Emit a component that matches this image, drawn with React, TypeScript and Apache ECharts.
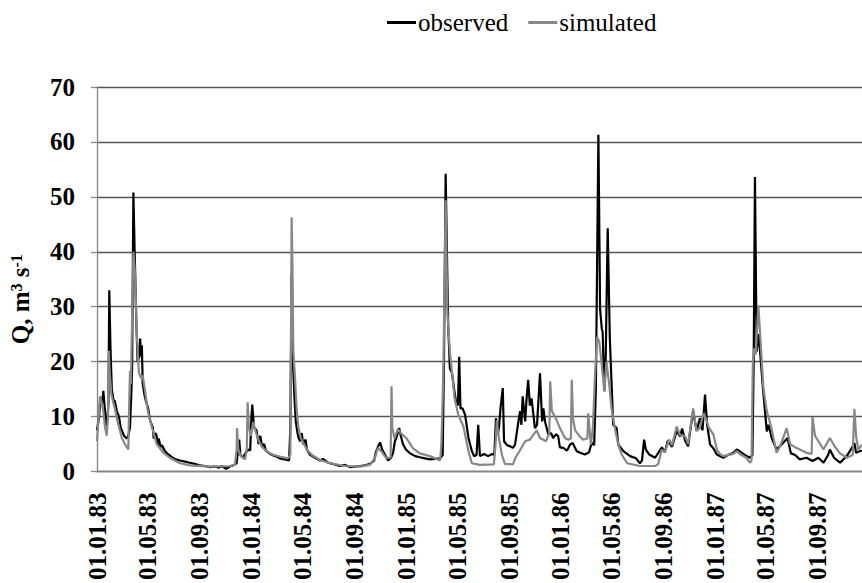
import React, { useEffect, useRef } from "react";
import * as echarts from "echarts";

const xTickDates: string[] = [
  "1983-01-01", "1983-05-01", "1983-09-01",
  "1984-01-01", "1984-05-01", "1984-09-01",
  "1985-01-01", "1985-05-01", "1985-09-01",
  "1986-01-01", "1986-05-01", "1986-09-01",
  "1987-01-01", "1987-05-01", "1987-09-01",
];

const xStart = "1983-01-01";
const xEnd = "1987-12-14";
const yMin = 0;
const yMax = 70;
const yStep = 10;

const observed: [string, number][] = [
  ["1983-01-01",7.5],["1983-01-06",10],["1983-01-09",13.5],["1983-01-13",12.5],["1983-01-16",14.7],["1983-01-20",11],["1983-01-22",8.3],["1983-01-26",10],["1983-01-28",12.5],["1983-01-30",33],["1983-02-02",22],["1983-02-05",15],["1983-02-09",13],["1983-02-12",12.8],["1983-02-17",11],["1983-02-22",10],["1983-02-26",8],["1983-03-06",6.5],["1983-03-12",6],["1983-03-16",6.5],["1983-03-20",8],["1983-03-23",14],["1983-03-25",19],["1983-03-28",50.8],["1983-03-31",40],["1983-04-04",27],["1983-04-07",20],["1983-04-11",21],["1983-04-13",24.2],["1983-04-15",21],["1983-04-17",23],["1983-04-19",16],["1983-04-23",14],["1983-04-26",13],["1983-05-02",11.5],["1983-05-06",9.5],["1983-05-08",9],["1983-05-13",8],["1983-05-15",6],["1983-05-19",7],["1983-05-22",6.5],["1983-05-25",4.8],["1983-05-27",6],["1983-05-31",4.5],["1983-06-03",4.8],["1983-06-10",3.8],["1983-06-17",3.2],["1983-06-27",2.6],["1983-07-06",2.2],["1983-07-16",2.0],["1983-07-28",1.8],["1983-08-08",1.6],["1983-08-20",1.4],["1983-09-01",1.1],["1983-09-13",1.0],["1983-09-25",0.8],["1983-10-07",0.9],["1983-10-16",0.7],["1983-10-23",1.0],["1983-11-02",0.5],["1983-11-11",0.9],["1983-11-21",1.2],["1983-11-27",1.5],["1983-12-03",5.8],["1983-12-06",3],["1983-12-12",2.5],["1983-12-19",3.5],["1983-12-24",4.0],["1983-12-29",3.8],
  ["1984-01-01",10],["1984-01-03",12.2],["1984-01-07",8],["1984-01-13",7.5],["1984-01-18",5],["1984-01-22",6.5],["1984-01-26",4.5],["1984-01-31",5],["1984-02-04",3.8],["1984-02-14",3.2],["1984-02-26",2.8],["1984-03-08",2.4],["1984-03-20",2.2],["1984-03-30",2.0],["1984-04-02",8],["1984-04-05",36],["1984-04-08",20],["1984-04-12",13],["1984-04-15",9],["1984-04-20",6.5],["1984-04-25",5.5],["1984-04-29",7.0],["1984-05-02",5],["1984-05-08",5.8],["1984-05-11",4],["1984-05-18",3.1],["1984-05-30",2.5],["1984-06-11",2.0],["1984-06-18",2.3],["1984-06-30",1.6],["1984-07-16",1.3],["1984-07-28",1.0],["1984-08-09",1.2],["1984-08-21",0.8],["1984-09-02",0.9],["1984-09-14",1.0],["1984-09-25",1.1],["1984-10-07",1.4],["1984-10-17",2.0],["1984-10-21",3.5],["1984-10-26",4.5],["1984-10-31",5.3],["1984-11-05",4],["1984-11-12",3],["1984-11-19",2.0],["1984-11-26",2.5],["1984-12-01",3.5],["1984-12-05",5.5],["1984-12-10",6.5],["1984-12-15",7.9],["1984-12-19",6.5],["1984-12-24",5],["1984-12-31",4],
  ["1985-01-10",3.3],["1985-01-22",2.8],["1985-02-02",2.6],["1985-02-14",2.4],["1985-02-26",2.2],["1985-03-10",2.3],["1985-03-22",2.4],["1985-03-28",3],["1985-03-31",20],["1985-04-04",54.2],["1985-04-07",40],["1985-04-10",26.6],["1985-04-14",18.8],["1985-04-19",17.9],["1985-04-24",15],["1985-04-28",13],["1985-05-03",12],["1985-05-06",20.9],["1985-05-09",11.5],["1985-05-14",11.5],["1985-05-20",10.3],["1985-05-28",6.1],["1985-06-05",3.7],["1985-06-10",2.8],["1985-06-16",3],["1985-06-20",8.5],["1985-06-24",2.8],["1985-07-04",3.2],["1985-07-13",2.8],["1985-07-23",3.2],["1985-07-28",3],["1985-08-01",9.7],["1985-08-05",6.7],["1985-08-08",8],["1985-08-12",11.8],["1985-08-17",15.2],["1985-08-20",5.5],["1985-08-27",4.8],["1985-09-03",4.6],["1985-09-10",4.3],["1985-09-15",4.9],["1985-09-23",9.1],["1985-09-27",11],["1985-09-30",8.5],["1985-10-03",13.7],["1985-10-09",9.1],["1985-10-12",13],["1985-10-16",16.7],["1985-10-20",12],["1985-10-24",13.3],["1985-11-01",7.9],["1985-11-06",8.5],["1985-11-13",17.9],["1985-11-18",9.1],["1985-11-21",11.5],["1985-11-25",9],["1985-12-03",6.7],["1985-12-09",7],["1985-12-14",6.1],["1985-12-21",6.8],["1985-12-26",6.4],["1985-12-30",4.4],
  ["1986-01-07",4.3],["1986-01-16",3.8],["1986-01-23",4.9],["1986-01-29",5.2],["1986-02-08",3.7],["1986-02-16",3.4],["1986-02-27",3.1],["1986-03-09",3.5],["1986-03-15",5.2],["1986-03-21",4.8],["1986-03-25",15],["1986-03-31",61.3],["1986-04-04",29.6],["1986-04-08",26],["1986-04-10",25.4],["1986-04-14",14.6],["1986-04-17",19.4],["1986-04-22",44.3],["1986-04-27",24.2],["1986-05-05",8.5],["1986-05-13",7.9],["1986-05-17",4.9],["1986-05-29",3.7],["1986-06-14",2.8],["1986-06-28",2.4],["1986-07-07",1.5],["1986-07-12",2],["1986-07-17",5.8],["1986-07-21",4],["1986-07-29",3.1],["1986-08-12",2.5],["1986-08-28",4.4],["1986-09-04",3.5],["1986-09-11",5.6],["1986-09-21",4.5],["1986-10-02",7.4],["1986-10-10",6.4],["1986-10-15",7.8],["1986-10-22",5.6],["1986-10-29",4.6],["1986-11-05",8.5],["1986-11-10",11],["1986-11-18",7.4],["1986-11-26",9.7],["1986-12-02",7.5],["1986-12-08",14],["1986-12-13",8.5],["1986-12-20",4.9],["1986-12-28",4.2],
  ["1987-01-05",3.1],["1987-01-12",2.8],["1987-01-20",2.5],["1987-01-31",3.0],["1987-02-13",3.4],["1987-02-21",4],["1987-02-28",3.7],["1987-03-12",3.0],["1987-03-24",2.5],["1987-03-30",3.0],["1987-04-02",20],["1987-04-05",53.6],["1987-04-09",21.8],["1987-04-13",25],["1987-04-17",22],["1987-04-24",15],["1987-05-03",7.3],["1987-05-07",8.5],["1987-05-15",6],["1987-05-26",4],["1987-06-07",4.9],["1987-06-21",6.1],["1987-06-29",3.3],["1987-07-09",3.0],["1987-07-20",2.2],["1987-08-05",2.5],["1987-08-19",1.9],["1987-09-02",2.5],["1987-09-14",1.6],["1987-09-25",3.0],["1987-09-29",4.0],["1987-10-09",2.5],["1987-10-23",1.6],["1987-11-08",2.8],["1987-11-20",4.3],["1987-11-26",5.2],["1987-11-30",3.4],["1987-12-05",3.6],["1987-12-14",3.8],
];

const simulated: [string, number][] = [
  ["1983-01-01",5.5],["1983-01-04",9],["1983-01-08",13.7],["1983-01-12",12.5],["1983-01-16",11],["1983-01-20",8],["1983-01-24",6.5],["1983-01-27",10],["1983-01-29",22],["1983-01-31",18],["1983-02-04",14],["1983-02-07",13],["1983-02-12",11.5],["1983-02-19",9],["1983-03-01",6],["1983-03-08",5],["1983-03-16",4],["1983-03-18",12],["1983-03-20",18.3],["1983-03-22",16],["1983-03-25",28],["1983-03-28",40],["1983-04-01",36],["1983-04-05",25],["1983-04-10",18],["1983-04-15",17],["1983-04-19",17.5],["1983-04-24",15],["1983-05-01",11],["1983-05-11",8],["1983-05-22",5],["1983-06-06",3.5],["1983-06-22",2.5],["1983-07-16",1.5],["1983-08-09",1.1],["1983-09-25",0.9],["1983-11-11",1.0],["1983-11-23",1.2],["1983-11-27",4],["1983-11-28",7.9],["1983-12-01",4],["1983-12-07",2.8],["1983-12-17",2.2],["1983-12-21",4],["1983-12-23",12.6],["1983-12-26",8],["1983-12-31",6.5],
  ["1984-01-05",9],["1984-01-12",7],["1984-01-19",5.5],["1984-01-26",4.5],["1984-02-04",3.8],["1984-02-19",3.1],["1984-03-08",2.7],["1984-03-27",2.4],["1984-04-02",3],["1984-04-05",46.3],["1984-04-07",37],["1984-04-09",22],["1984-04-13",17],["1984-04-17",11.2],["1984-04-21",8],["1984-04-27",6],["1984-05-04",5],["1984-05-11",4],["1984-05-23",3],["1984-06-11",2.1],["1984-07-05",1.5],["1984-08-09",1.0],["1984-09-14",0.9],["1984-10-07",1.2],["1984-10-19",2.5],["1984-10-26",4.3],["1984-11-05",3.5],["1984-11-14",2.5],["1984-11-25",2.5],["1984-11-27",15.5],["1984-11-29",8],["1984-12-04",6],["1984-12-12",7.7],["1984-12-19",7],
  ["1985-01-02",6],["1985-01-17",4.2],["1985-02-02",3.3],["1985-02-26",2.8],["1985-03-22",2.0],["1985-03-25",5],["1985-03-28",13.4],["1985-03-30",20.3],["1985-04-04",49.4],["1985-04-08",29],["1985-04-14",21.8],["1985-04-25",13.4],["1985-05-04",10.3],["1985-05-16",8.2],["1985-05-28",3.7],["1985-06-05",1.5],["1985-06-24",1.2],["1985-07-27",1.3],["1985-07-31",5],["1985-08-03",9.3],["1985-08-08",6],["1985-08-15",3],["1985-08-22",1.4],["1985-09-10",1.3],["1985-09-16",2.5],["1985-09-24",3.5],["1985-10-09",5.5],["1985-10-20",5.8],["1985-11-05",7.5],["1985-11-13",6.1],["1985-11-27",5.5],["1985-12-05",7],["1985-12-07",16.4],["1985-12-11",11],["1985-12-22",9.4],["1985-12-30",7.9],
  ["1986-01-11",6.1],["1986-01-18",5.8],["1986-01-25",6],["1986-01-27",16.7],["1986-01-30",9.6],["1986-02-04",7.5],["1986-02-16",6.3],["1986-02-23",5.8],["1986-03-05",6],["1986-03-07",10.6],["1986-03-13",4.9],["1986-03-18",8],["1986-03-23",17.6],["1986-03-28",24.5],["1986-04-02",23.6],["1986-04-08",19.4],["1986-04-14",14.6],["1986-04-19",20],["1986-04-26",15.6],["1986-05-01",11.5],["1986-05-09",7.9],["1986-05-17",4.9],["1986-05-25",3.1],["1986-06-07",1.5],["1986-07-07",1.0],["1986-08-12",1.0],["1986-08-19",1.3],["1986-08-28",4],["1986-09-04",3.5],["1986-09-14",5.8],["1986-09-21",4.8],["1986-10-02",8.2],["1986-10-10",6.6],["1986-10-22",6.4],["1986-10-29",5],["1986-11-10",11.5],["1986-11-18",7.4],["1986-11-26",7.9],["1986-12-04",10.6],["1986-12-10",9.7],["1986-12-17",8],["1986-12-28",6.7],
  ["1987-01-05",4],["1987-01-12",3.2],["1987-01-20",2.8],["1987-02-13",3.2],["1987-02-21",3.7],["1987-02-28",3.2],["1987-03-16",2.5],["1987-03-24",1.6],["1987-03-28",2],["1987-03-31",20],["1987-04-03",22.4],["1987-04-07",21.3],["1987-04-13",30.2],["1987-04-17",25.4],["1987-04-25",15.2],["1987-05-03",11],["1987-05-14",7.9],["1987-05-26",3.4],["1987-06-03",4.5],["1987-06-19",7.9],["1987-06-27",5],["1987-07-09",4.4],["1987-07-20",4],["1987-08-05",3.4],["1987-08-17",3.2],["1987-08-19",9.9],["1987-08-25",6.5],["1987-09-02",5.5],["1987-09-14",4],["1987-09-29",6.1],["1987-10-11",4.5],["1987-10-23",3.3],["1987-11-08",2.5],["1987-11-22",3],["1987-11-26",11.4],["1987-11-30",6.5],["1987-12-05",4],["1987-12-14",4.9],
];

const FONT = "'Liberation Serif', 'Times New Roman', serif";

function ts(s: string): number {
  const [y, m, d] = s.split("-").map(Number);
  return Date.UTC(y, m - 1, d);
}

function pad(n: number): string {
  return n < 10 ? "0" + n : String(n);
}

function fmtDate(v: number): string {
  const d = new Date(v);
  return pad(d.getUTCDate()) + "." + pad(d.getUTCMonth() + 1) + "." + String(d.getUTCFullYear()).slice(2);
}

export default function App() {
  const ref = useRef<HTMLDivElement>(null);

  useEffect(() => {
    if (!ref.current) return;
    const chart = echarts.init(ref.current, undefined, { renderer: "svg" });
    const option: any = {
      animation: false,
      backgroundColor: "#ffffff",
      textStyle: { fontFamily: FONT },
      legend: {
        data: ["observed", "simulated"],
        left: 382,
        top: 5,
        icon: "rect",
        itemWidth: 29,
        itemHeight: 3,
        itemGap: 20,
        textStyle: { fontSize: 25, color: "#000", fontFamily: FONT, padding: [0, 0, 0, -3] },
      },
      grid: { left: 97, right: 0, top: 87, bottom: 109 },
      xAxis: {
        type: "value",
        min: ts(xStart),
        max: ts(xEnd),
        axisLine: { show: true, onZero: false, lineStyle: { color: "#868686", width: 1.3 } },
        axisTick: { show: false },
        splitLine: { show: false },
        axisLabel: {
          customValues: xTickDates.map(ts),
          formatter: (v: number) => fmtDate(v),
          rotate: 90,
          margin: 21,
          fontSize: 25,
          fontWeight: "bold",
          color: "#000",
          fontFamily: FONT,
          hideOverlap: false,
        },
      },
      yAxis: {
        type: "value",
        min: yMin,
        max: yMax,
        interval: yStep,
        name: "{b|Q, m}{s|3}{b| s}{s|-1}",
        nameLocation: "middle",
        nameGap: 64,
        nameRotate: 90,
        nameTextStyle: {
          padding: [0, 40, 0, 0],
          rich: {
            b: { fontSize: 25, fontWeight: "bold", fontFamily: FONT, color: "#000" },
            s: { fontSize: 16, fontWeight: "bold", fontFamily: FONT, color: "#000", verticalAlign: "top" },
          },
        },
        axisLine: { show: true, lineStyle: { color: "#868686", width: 1.3 } },
        axisTick: { show: true, length: 6, lineStyle: { color: "#868686", width: 1.3 } },
        axisLabel: {
          margin: 22,
          fontSize: 25,
          fontWeight: "bold",
          color: "#000",
          fontFamily: FONT,
        },
        splitLine: { show: true, lineStyle: { color: "#555555", width: 1.3 } },
      },
      series: [
        {
          name: "observed",
          type: "line",
          data: observed.map(([d, v]) => [ts(d), v]),
          symbol: "none",
          showSymbol: false,
          lineStyle: { color: "#000000", width: 2.2 },
          itemStyle: { color: "#000000" },
        },
        {
          name: "simulated",
          type: "line",
          data: simulated.map(([d, v]) => [ts(d), v]),
          symbol: "none",
          showSymbol: false,
          lineStyle: { color: "#878787", width: 2.2 },
          itemStyle: { color: "#878787" },
        },
      ],
    };
    chart.setOption(option);
    return () => chart.dispose();
  }, []);

  return (
    <div
      ref={ref}
      style={{ position: "fixed", left: 0, top: 0, width: 862, height: 583, background: "#fff" }}
    />
  );
}
